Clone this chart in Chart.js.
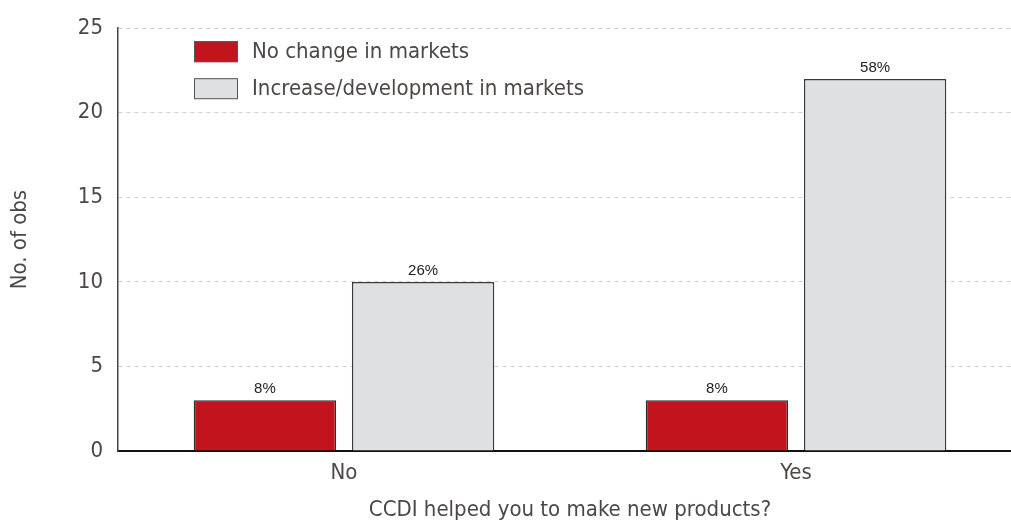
<!DOCTYPE html>
<html>
<head>
<meta charset="utf-8">
<script src="https://cdn.jsdelivr.net/npm/chart.js@4"></script>
<style>
  html, body { margin: 0; padding: 0; background: #fff; overflow: hidden; }
</style>
</head>
<body>
<canvas id="chart" width="1022" height="526"></canvas>
<script>
//Categories and the two series
const categories = ['No', 'Yes'];
const noChange = [3, 3];
const increase = [10, 22];
//Share labels shown over each bar
const noChangePct = ['8%', '8%'];
const increasePct = ['26%', '58%'];
const seriesNames = ['No change in markets', 'Increase/development in markets'];
const yTicks = [0, 5, 10, 15, 20, 25];

const narrow = "'DejaVu Sans Condensed', 'Liberation Sans Narrow', sans-serif";
const textColor = '#4d4646';

//Percent labels above the bars
const valueLabels = {
    id: 'valueLabels',
    afterDatasetsDraw(chart) {
        const ctx = chart.ctx;
        const labels = [noChangePct, increasePct];
        ctx.save();
        ctx.font = "15px 'Liberation Sans', Arial, sans-serif";
        ctx.fillStyle = '#222';
        ctx.textAlign = 'center';
        ctx.textBaseline = 'bottom';
        chart.data.datasets.forEach((ds, i) => {
            chart.getDatasetMeta(i).data.forEach((bar, j) => {
                ctx.fillText(labels[i][j], bar.x, bar.y - 4);
            });
        });
        ctx.restore();
    }
};

//Legend drawn inside the plot area
const insideLegend = {
    id: 'insideLegend',
    afterDraw(chart) {
        const ctx = chart.ctx;
        const x0 = chart.chartArea.left + 76;
        const y0 = chart.chartArea.top + 13;
        ctx.save();
        chart.data.datasets.forEach((ds, i) => {
            const y = y0 + i * 37;
            ctx.fillStyle = ds.backgroundColor;
            ctx.fillRect(x0, y, 44, 21);
            ctx.strokeStyle = '#555';
            ctx.lineWidth = 1;
            ctx.strokeRect(x0 + 0.5, y + 0.5, 43, 20);
            ctx.fillStyle = textColor;
            ctx.font = '22px ' + narrow;
            ctx.textBaseline = 'middle';
            ctx.fillText(ds.label, x0 + 58, y + 11);
        });
        ctx.restore();
    }
};

const ctx = document.getElementById('chart');
const myChart = new Chart(ctx, {
    type: 'bar',
    data: {
        labels: categories,
        datasets: [{
            label: seriesNames[0],
            data: noChange,
            backgroundColor: '#c1141c',
            borderColor: '#2e2e2e',
            borderWidth: 1.5
        },
        {
            label: seriesNames[1],
            data: increase,
            backgroundColor: '#dfe0e2',
            borderColor: '#3a3a3a',
            borderWidth: 1.5
        }]
    },
    options: {
        responsive: false,
        animation: false,
        layout: { padding: { top: 27, right: 0, left: 0, bottom: 0 } },
        datasets: {
            bar: { categoryPercentage: 0.7, barPercentage: 0.9 }
        },
        plugins: {
            legend: { display: false },
            tooltip: { enabled: false }
        },
        scales: {
            x: {
                afterFit(scale) { scale.height = 75; },
                grid: { drawOnChartArea: false, drawTicks: false },
                border: { display: true, color: '#111', width: 2 },
                ticks: {
                    padding: 9,
                    color: textColor,
                    font: { family: narrow, size: 22 }
                },
                title: {
                    display: true,
                    text: 'CCDI helped you to make new products?',
                    color: textColor,
                    font: { family: narrow, size: 22 },
                    padding: { top: 0, bottom: 3 }
                }
            },
            y: {
                min: 0,
                max: 25,
                afterFit(scale) { scale.width = 118; },
                afterBuildTicks(scale) {
                    scale.ticks = yTicks.map(v => ({ value: v }));
                },
                grid: {
                    drawTicks: false,
                    color: c => c.tick && c.tick.value === 0 ? 'rgba(0,0,0,0)' : '#cdcdcd',
                    lineWidth: 1
                },
                border: { display: true, color: '#444', width: 1.5, dash: [4, 4] },
                ticks: {
                    padding: 15,
                    color: textColor,
                    font: { family: narrow, size: 22 }
                },
                title: {
                    display: true,
                    text: 'No. of obs',
                    color: textColor,
                    font: { family: narrow, size: 22 },
                    padding: { top: 7, bottom: 0 }
                }
            }
        }
    },
    plugins: [valueLabels, insideLegend]
});
</script>
</body>
</html>
